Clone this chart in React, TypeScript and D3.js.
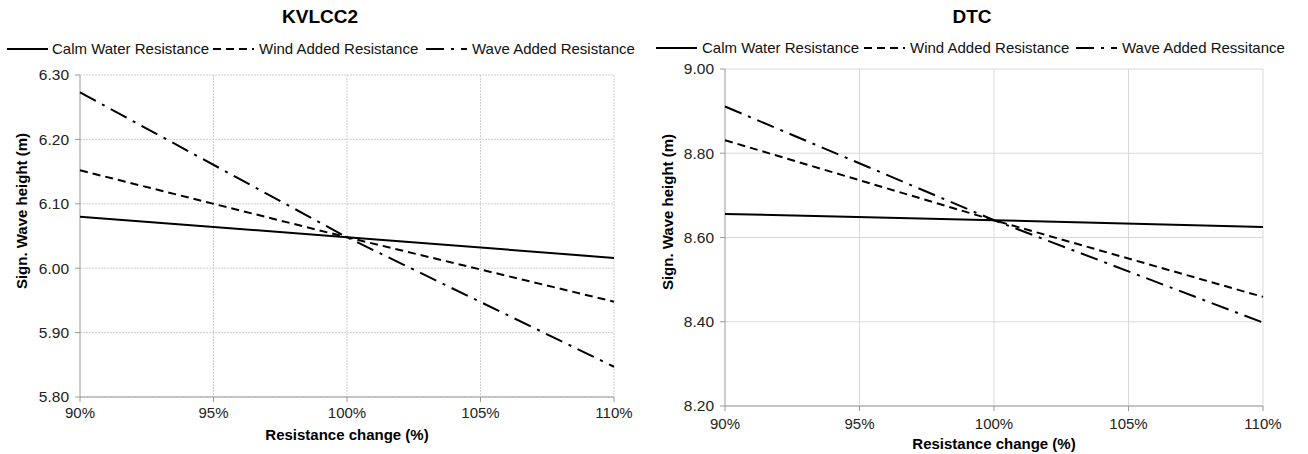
import React from "react";
import * as d3 from "d3";

// ---------- data ----------
const X_VALUES = [90, 100, 110];
const X_TICKS = [90, 95, 100, 105, 110];

const KVLCC2_CALM = [6.08, 6.048, 6.016];
const KVLCC2_WIND = [6.152, 6.048, 5.948];
const KVLCC2_WAVE = [6.273, 6.048, 5.847];
const KVLCC2_Y_TICKS = [5.8, 5.9, 6.0, 6.1, 6.2, 6.3];
const KVLCC2_NAMES = ["Calm Water Resistance", "Wind Added Resistance", "Wave Added Resistance"];

const DTC_CALM = [8.656, 8.641, 8.625];
const DTC_WIND = [8.831, 8.641, 8.459];
const DTC_WAVE = [8.911, 8.641, 8.398];
const DTC_Y_TICKS = [8.2, 8.4, 8.6, 8.8, 9.0];
const DTC_NAMES = ["Calm Water Resistance", "Wind Added Resistance", "Wave Added Ressitance"];

const X_TITLE = "Resistance change (%)";
const Y_TITLE = "Sign. Wave height (m)";

// ---------- styles ----------
const FONT = "'Liberation Sans', Arial, Helvetica, sans-serif";
const DASHES = ["none", "8,5", "18,7,3,7"];

type Layout = {
  x0: number; x1: number; yTop: number; yBot: number;
  titleX: number; yTitleX: number; yTitleY: number;
  xTickY: number; xTitleY: number;
  legendLine: number[]; legendText: number[]; legendY: number;
  grid: string; gridDash: string;
};

const LEFT: Layout = {
  x0: 80, x1: 614, yTop: 75, yBot: 397,
  titleX: 320, yTitleX: 27, yTitleY: 211,
  xTickY: 418, xTitleY: 440,
  legendLine: [7, 213, 426], legendText: [52, 259, 472], legendY: 49,
  grid: "#cfcfcf", gridDash: "2,1",
};
const RIGHT: Layout = {
  x0: 725, x1: 1263, yTop: 69, yBot: 406,
  titleX: 972, yTitleX: 673, yTitleY: 212,
  xTickY: 429, xTitleY: 449,
  legendLine: [656, 864, 1076], legendText: [702, 910, 1122], legendY: 48,
  grid: "#d9d9d9", gridDash: "none",
};

function Panel({ title, series, names, yTicks, L }: {
  title: string; series: number[][]; names: string[]; yTicks: number[]; L: Layout;
}) {
  const x = d3.scaleLinear().domain([90, 110]).range([L.x0, L.x1]);
  const y = d3.scaleLinear().domain([yTicks[0], yTicks[yTicks.length - 1]]).range([L.yBot, L.yTop]);
  const line = d3.line<number>().x((_, i) => x(X_VALUES[i])).y((d) => y(d));
  return (
    <g fontFamily={FONT}>
      <text x={L.titleX} y={23} textAnchor="middle" fontWeight="bold" fontSize={19} fill="#000">{title}</text>
      {names.map((n, i) => (
        <g key={n}>
          <line x1={L.legendLine[i]} x2={L.legendLine[i] + 41} y1={L.legendY} y2={L.legendY}
            stroke="#000" strokeWidth={2} strokeDasharray={DASHES[i]} />
          <text x={L.legendText[i]} y={L.legendY + 5} fontSize={15} fill="#111">{n}</text>
        </g>
      ))}
      {yTicks.map((t) => (
        <line key={"hg" + t} x1={L.x0} x2={L.x1} y1={y(t)} y2={y(t)} stroke={L.grid} strokeWidth={1} strokeDasharray={L.gridDash} />
      ))}
      {X_TICKS.slice(1).map((t) => (
        <line key={"vg" + t} x1={x(t)} x2={x(t)} y1={L.yTop} y2={L.yBot} stroke={L.grid} strokeWidth={1} strokeDasharray={L.gridDash} />
      ))}
      <line x1={L.x0} x2={L.x0} y1={L.yTop} y2={L.yBot} stroke="#9a9a9a" />
      <line x1={L.x0} x2={L.x1} y1={L.yBot} y2={L.yBot} stroke="#9a9a9a" />
      {yTicks.map((t) => (
        <g key={"yt" + t}>
          <line x1={L.x0 - 5} x2={L.x0} y1={y(t)} y2={y(t)} stroke="#9a9a9a" />
          <text x={L.x0 - 11} y={y(t)} dy="0.35em" textAnchor="end" fontSize={15.5} fill="#222">{d3.format(".2f")(t)}</text>
        </g>
      ))}
      {X_TICKS.map((t) => (
        <g key={"xt" + t}>
          <line x1={x(t)} x2={x(t)} y1={L.yBot} y2={L.yBot + 5} stroke="#9a9a9a" />
          <text x={x(t)} y={L.xTickY} textAnchor="middle" fontSize={15} fill="#222">{t + "%"}</text>
        </g>
      ))}
      <text x={(L.x0 + L.x1) / 2} y={L.xTitleY} textAnchor="middle" fontWeight="bold" fontSize={15} fill="#000">{X_TITLE}</text>
      <text transform={`translate(${L.yTitleX},${L.yTitleY}) rotate(-90)`} textAnchor="middle" fontWeight="bold" fontSize={15} fill="#000">{Y_TITLE}</text>
      {series.map((s, i) => (
        <path key={"s" + i} d={line(s) || ""} fill="none" stroke="#000" strokeWidth={2} strokeDasharray={DASHES[i]} />
      ))}
    </g>
  );
}

export default function App() {
  return (
    <div style={{ position: "absolute", left: 0, top: 0 }}>
      <svg width={1308} height={454} style={{ display: "block", background: "#fff" }}>
        <Panel title="KVLCC2" series={[KVLCC2_CALM, KVLCC2_WIND, KVLCC2_WAVE]} names={KVLCC2_NAMES} yTicks={KVLCC2_Y_TICKS} L={LEFT} />
        <Panel title="DTC" series={[DTC_CALM, DTC_WIND, DTC_WAVE]} names={DTC_NAMES} yTicks={DTC_Y_TICKS} L={RIGHT} />
      </svg>
    </div>
  );
}
